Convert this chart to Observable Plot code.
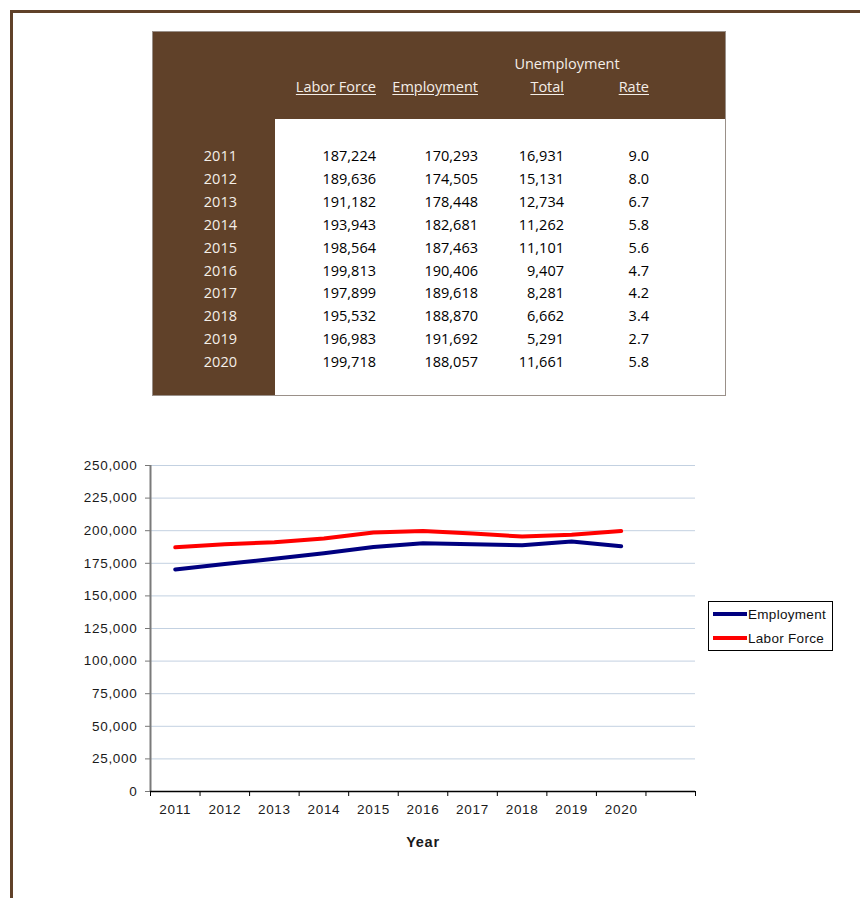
<!DOCTYPE html>
<html>
<head>
<meta charset="utf-8">
<script src="https://cdn.jsdelivr.net/npm/d3@7"></script>
<script src="https://cdn.jsdelivr.net/npm/@observablehq/plot@0.6"></script>
<style>
  html, body { margin: 0; padding: 0; background: #fff; overflow: hidden; }
  body { width: 860px; height: 898px; position: relative; }
  #frame { position: absolute; left: 10px; top: 10px; width: 900px; height: 950px;
           border-top: 3px solid #604129; border-left: 3px solid #604129; }
  #table { position: absolute; left: 152px; top: 31px; width: 572px; height: 363px;
           background: #604129; border: 1px solid #9a9089; font-family: "Open Sans", sans-serif; font-size: 14.5px; }
  #inner { position: absolute; left: 122px; top: 87px; right: 0; bottom: 0; background: #fff; }
  .cell { position: absolute; white-space: nowrap; line-height: 18px; }
  .hdr { color: #f4eee8; }
  .u { text-decoration: underline; text-underline-offset: 2px; }
  .num { color: #000; text-align: right; }
  .yr { color: #f4eee8; text-align: right; }
  #chart { position: absolute; left: 0; top: 440px; }
  #chart svg text { letter-spacing: 0.7px; }
  #legend { position: absolute; left: 708px; top: 601px; width: 123px; height: 48px;
            border: 1px solid #000; background: #fff; font-family: "Liberation Sans", Arial, sans-serif;
            font-size: 13.5px; letter-spacing: 0.3px; color: #111; }
  .lg { position: absolute; left: 4px; height: 16px; line-height: 16px; white-space: nowrap; }
  .sw { display: inline-block; width: 34px; height: 4px; vertical-align: middle; margin-right: 1px; position: relative; top: -1px; }
</style>
</head>
<body>
<div id="frame"></div>
<div id="table"><div id="inner"></div></div>
<div id="chart"></div>
<div id="legend"></div>
<script>
const years = [2011, 2012, 2013, 2014, 2015, 2016, 2017, 2018, 2019, 2020];
const laborForce = [187224, 189636, 191182, 193943, 198564, 199813, 197899, 195532, 196983, 199718];
const employment = [170293, 174505, 178448, 182681, 187463, 190406, 189618, 188870, 191692, 188057];
const unempTotal = [16931, 15131, 12734, 11262, 11101, 9407, 8281, 6662, 5291, 11661];
const unempRate = [9.0, 8.0, 6.7, 5.8, 5.6, 4.7, 4.2, 3.4, 2.7, 5.8];
const yTicks = [0, 25000, 50000, 75000, 100000, 125000, 150000, 175000, 200000, 225000, 250000];
const seriesNames = ["Employment", "Labor Force"];
const seriesColors = ["#000080", "#ff0000"];
const headerCols = ["Labor Force", "Employment", "Total", "Rate"];
const headerGroup = "Unemployment";

// ---- Table (HTML) ----
const table = document.getElementById("table");
const fmt = d3.format(",");
function cell(text, cls, left, top, width, align) {
  const el = document.createElement("div");
  el.className = "cell " + cls;
  el.textContent = text;
  el.style.left = left + "px";
  el.style.top = top + "px";
  el.style.width = width + "px";
  el.style.textAlign = align;
  table.appendChild(el);
}
// coordinates relative to table box (left 152, top 31)
const colRight = [375, 477, 563, 648].map(x => x - 152);
const colW = 100;
cell(headerGroup, "hdr", 566 - 152 - 70, 63 - 31 - 9, 140, "center");
headerCols.forEach((h, i) => cell(h, "hdr u", colRight[i] - colW, 86 - 31 - 9, colW, "right"));
years.forEach((y, i) => {
  const top = 155 - 31 - 9 + i * 22.9;
  cell(String(y), "yr", 236 - 152 - 60, top, 60, "right");
  cell(fmt(laborForce[i]), "num", colRight[0] - colW, top, colW, "right");
  cell(fmt(employment[i]), "num", colRight[1] - colW, top, colW, "right");
  cell(fmt(unempTotal[i]), "num", colRight[2] - colW, top, colW, "right");
  cell(unempRate[i].toFixed(1), "num", colRight[3] - colW, top, colW, "right");
});

// ---- Chart (Plot) ----
const empData = years.map((y, i) => ({year: y, value: employment[i]}));
const lfData = years.map((y, i) => ({year: y, value: laborForce[i]}));
const boundaries = d3.range(years[0] - 0.5, years[years.length - 1] + 2, 1);

const chart = Plot.plot({
  width: 860,
  height: 420,
  marginLeft: 150,
  marginRight: 165,
  marginTop: 25,
  marginBottom: 69,
  style: {fontFamily: "'Liberation Sans', Arial, sans-serif", fontSize: "13.5px", color: "#1a1a1a", background: "transparent"},
  x: {type: "linear", domain: [years[0] - 0.5, years[years.length - 1] + 1.5], label: null},
  y: {domain: [0, 250000], label: null},
  marks: [
    Plot.gridY(yTicks.filter(d => d > 0), {stroke: "#c3d1e1", strokeOpacity: 1, strokeWidth: 1}),
    Plot.axisY(yTicks, {tickSize: 5, tickPadding: 8, tickFormat: d3.format(","), stroke: "#777", fill: "#1a1a1a", label: null}),
    Plot.ruleX([years[0] - 0.5], {stroke: "#7a7a7a", strokeWidth: 2}),
    Plot.ruleY([0], {stroke: "#000", strokeWidth: 1.5}),
    Plot.axisX(boundaries, {tickSize: 5, tickFormat: () => "", stroke: "#000", label: null}),
    Plot.axisX(years, {tickSize: 0, tickPadding: 13, tickFormat: d => String(d), fill: "#1a1a1a", label: null}),
    Plot.line(empData, {x: "year", y: "value", stroke: seriesColors[0], strokeWidth: 4}),
    Plot.line(lfData, {x: "year", y: "value", stroke: seriesColors[1], strokeWidth: 4}),
    Plot.text(["Year"], {frameAnchor: "bottom", dy: 55, fontWeight: "bold", fontSize: 14.5, fill: "#1a1a1a"})
  ]
});
document.getElementById("chart").appendChild(chart);

// ---- Legend (HTML) ----
const legend = document.getElementById("legend");
seriesNames.forEach((name, i) => {
  const row = document.createElement("div");
  row.className = "lg";
  row.style.top = (5 + i * 24) + "px";
  row.innerHTML = `<span class="sw" style="background:${seriesColors[i]}"></span>${name}`;
  legend.appendChild(row);
});
</script>
</body>
</html>
